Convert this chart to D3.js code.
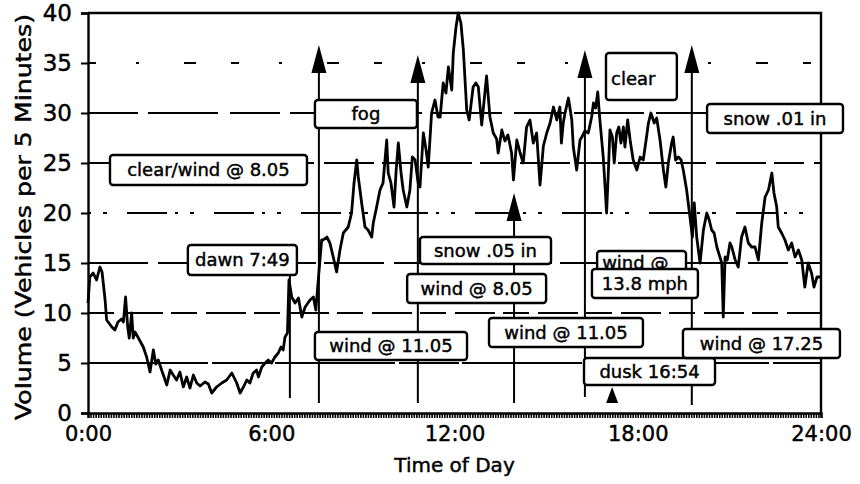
<!DOCTYPE html>
<html>
<head>
<meta charset="utf-8">
<script src="https://cdn.jsdelivr.net/npm/d3@7"></script>
<style>
  html, body { margin: 0; padding: 0; background: #fff; }
  svg { display: block; font-family: "DejaVu Sans", Verdana, sans-serif; }
  svg text { stroke: #000; stroke-width: 0.45px; fill: #000; }
</style>
</head>
<body>
<svg id="chart" width="860" height="484"></svg>
<script>
// Traffic volume, vehicles per 5 minutes, over one day (hour of day -> volume)
const hours = [
  0.00, 0.06, 0.17, 0.28, 0.39, 0.46, 0.56, 0.61, 0.78, 0.88, 0.98, 1.10, 1.16, 1.23, 1.30, 1.35,
  1.43, 1.48, 1.54, 1.65, 1.81, 1.92, 2.03, 2.14, 2.22, 2.30, 2.41, 2.58, 2.69, 2.79, 2.90, 3.01,
  3.12, 3.23, 3.34, 3.45, 3.56, 3.67, 3.83, 3.94, 4.05, 4.21, 4.38, 4.54, 4.71, 4.87, 4.98, 5.09,
  5.20, 5.30, 5.41, 5.52, 5.58, 5.69, 5.80, 5.90, 6.01, 6.12, 6.23, 6.32, 6.39, 6.45, 6.53, 6.58,
  6.67, 6.78, 6.89, 7.00, 7.11, 7.27, 7.38, 7.46, 7.52, 7.65, 7.70, 7.82, 7.92, 8.03, 8.14, 8.25,
  8.36, 8.52, 8.63, 8.71, 8.80, 8.85, 8.96, 9.07, 9.17, 9.29, 9.34, 9.45, 9.56, 9.66, 9.78, 9.83,
  9.92, 10.02, 10.09, 10.16, 10.25, 10.32, 10.44, 10.54, 10.62, 10.71, 10.81, 10.87, 10.98, 11.07, 11.14, 11.25,
  11.36, 11.46, 11.53, 11.63, 11.72, 11.80, 11.91, 11.96, 12.05, 12.12, 12.21, 12.29, 12.40, 12.48, 12.61, 12.70,
  12.78, 12.89, 13.05, 13.16, 13.27, 13.38, 13.43, 13.55, 13.65, 13.75, 13.87, 13.93, 14.04, 14.15, 14.25, 14.36,
  14.47, 14.58, 14.69, 14.80, 14.91, 15.02, 15.13, 15.24, 15.35, 15.45, 15.50, 15.56, 15.62, 15.73, 15.84, 15.89,
  16.00, 16.11, 16.17, 16.27, 16.38, 16.49, 16.55, 16.62, 16.69, 16.76, 16.87, 16.93, 16.98, 17.04, 17.09, 17.17,
  17.23, 17.31, 17.38, 17.45, 17.53, 17.58, 17.67, 17.75, 17.85, 17.97, 18.08, 18.18, 18.26, 18.35, 18.43, 18.54,
  18.62, 18.73, 18.84, 18.92, 19.00, 19.11, 19.16, 19.24, 19.33, 19.42, 19.49, 19.60, 19.71, 19.79, 19.85, 19.93,
  20.04, 20.15, 20.26, 20.34, 20.42, 20.50, 20.59, 20.69, 20.75, 20.80, 20.86, 20.93, 21.02, 21.08, 21.19, 21.29,
  21.40, 21.51, 21.62, 21.73, 21.84, 21.95, 22.06, 22.17, 22.28, 22.39, 22.46, 22.55, 22.60, 22.71, 22.82, 22.93,
  23.04, 23.15, 23.26, 23.37, 23.47, 23.58, 23.69, 23.77, 23.87, 24.00
];
const volumes = [
  11.0, 13.6, 14.0, 13.3, 14.6, 14.1, 11.3, 9.3, 8.6, 8.3, 9.1, 9.4, 9.1, 11.6, 8.6, 7.5,
  10.0, 7.5, 8.1, 7.5, 6.6, 5.6, 4.1, 6.3, 4.9, 5.3, 4.3, 2.8, 4.3, 3.8, 3.3, 4.1,
  2.6, 3.6, 2.5, 3.8, 3.0, 2.7, 3.1, 2.9, 2.0, 2.6, 3.0, 3.3, 4.0, 3.0, 2.0, 2.6,
  3.3, 3.0, 4.0, 4.3, 3.6, 4.6, 5.0, 5.3, 5.0, 5.6, 6.0, 6.6, 6.3, 7.6, 8.0, 13.3,
  11.6, 11.0, 11.5, 9.6, 10.6, 11.3, 11.6, 10.3, 12.6, 17.3, 17.3, 17.6, 17.0, 15.6, 14.1, 16.3,
  18.0, 18.6, 20.0, 23.0, 25.3, 23.6, 21.0, 18.6, 18.3, 17.6, 19.0, 20.6, 22.3, 23.0, 27.3, 24.0,
  23.0, 20.6, 24.3, 27.0, 24.0, 22.3, 20.6, 22.3, 25.6, 25.3, 23.0, 22.6, 28.0, 26.3, 24.6, 30.0,
  31.3, 29.6, 29.6, 33.0, 32.0, 34.6, 32.3, 36.0, 38.6, 40.0, 39.0, 36.3, 30.3, 29.3, 32.6, 33.0,
  32.6, 28.8, 33.7, 29.6, 28.0, 27.4, 26.0, 28.3, 27.2, 27.8, 26.0, 23.3, 27.3, 26.0, 25.0, 28.6,
  29.3, 27.0, 28.0, 22.8, 26.7, 28.0, 29.0, 30.6, 29.3, 30.6, 27.0, 29.0, 30.0, 31.5, 29.3, 26.6,
  24.3, 27.3, 27.6, 28.2, 28.0, 29.6, 31.0, 30.5, 32.1, 29.3, 25.6, 22.6, 20.0, 24.3, 28.3, 27.6,
  25.0, 28.0, 28.6, 27.0, 28.6, 26.6, 29.3, 27.3, 25.3, 24.3, 25.6, 25.3, 27.0, 29.0, 30.0, 29.0,
  29.5, 27.3, 24.3, 22.6, 25.0, 27.0, 27.6, 25.3, 25.6, 25.3, 24.3, 22.3, 19.6, 17.6, 21.0, 17.6,
  15.0, 18.3, 20.0, 19.3, 18.3, 18.0, 16.6, 15.6, 15.0, 9.6, 15.6, 15.3, 17.0, 16.6, 15.3, 14.6,
  17.6, 18.6, 17.0, 16.6, 16.6, 15.3, 19.0, 21.6, 22.3, 24.0, 22.0, 20.6, 18.6, 18.0, 17.3, 16.3,
  17.0, 15.6, 16.3, 15.3, 12.6, 15.0, 14.0, 12.6, 13.6, 13.6
];

// Axis ticks
const yTicks = [0, 5, 10, 15, 20, 25, 30, 35, 40];
const xTickHours = [0, 6, 12, 18, 24];
const xTickLabels = ["0:00", "6:00", "12:00", "18:00", "24:00"];
const gridLevels = [5, 10, 15, 20, 25, 30, 35];

// Event markers: hour, top of the marker line (vehicles), bottom of the line
const eventHours = [7.56, 10.80, 13.95, 16.27, 19.77];
const eventTops  = [36.8, 35.8, 22.0, 36.3, 36.8];
const eventBottoms = [1.0, 1.0, 1.0, 1.6, 0.8];

// Dawn / dusk markers
const dawnHour = 6.61, dawnTop = 13.8, dawnBottom = 1.5;
const duskHour = 17.16, duskTip = 2.6;

// Weather notes: text, hour span, vehicle span
const noteTexts = [
  "clear/wind @ 8.05", "fog", "dawn 7:49", "snow .05 in", "wind @ 8.05",
  "wind @ 11.05", "wind @ 11.05", "wind @", "13.8 mph", "dusk 16:54",
  "wind @ 17.25", "clear", "snow .01 in"
];
const noteHours = [
  [0.72, 7.17], [7.43, 10.77], [3.27, 6.84], [10.87, 15.16], [10.45, 15.00],
  [7.43, 12.41], [13.13, 18.17], [16.67, 19.58], [16.50, 19.97], [16.24, 20.53],
  [19.48, 24.62], [16.96, 19.28], [20.27, 24.72]
];
const noteVolumes = [
  [25.8, 22.8], [31.3, 28.5], [16.8, 13.8], [17.6, 14.9], [13.9, 11.0],
  [8.1, 5.3], [9.5, 6.6], [16.2, 13.8], [14.4, 11.5], [5.5, 2.8],
  [8.4, 5.5], [36.0, 31.3], [30.9, 28.0]
];

const svg = d3.select("#chart");
const x = d3.scaleLinear().domain([0, 24]).range([88, 821]);
const y = d3.scaleLinear().domain([0, 40]).range([413, 13]);

// Dash styles of the printed grid
const gridDash = {
  5: "120,4,60,3",
  10: "26,9,40,8",
  15: "60,10,40,8",
  20: "3,12,4,20,40,8",
  25: "30,10,50,8",
  30: "50,10,70,12",
  35: "8,40,3,45,12,35"
};

svg.append("g")
  .selectAll("line")
  .data(gridLevels)
  .join("line")
  .attr("x1", x(0)).attr("x2", x(24))
  .attr("y1", d => y(d)).attr("y2", d => y(d))
  .attr("stroke", "#000")
  .attr("stroke-width", 2)
  .attr("stroke-dasharray", d => gridDash[d]);

// Volume trace
const points = hours.map((h, i) => [h, volumes[i]]);
svg.append("path")
  .datum(points)
  .attr("fill", "none")
  .attr("stroke", "#000")
  .attr("stroke-width", 2.8)
  .attr("stroke-linejoin", "round")
  .attr("d", d3.line().x(d => x(d[0])).y(d => y(d[1])));

// Event marker lines with arrowheads
const ev = svg.append("g");
eventHours.forEach((h, i) => {
  const px = x(h);
  const tip = y(eventTops[i]);
  ev.append("line")
    .attr("x1", px).attr("x2", px)
    .attr("y1", tip + 20).attr("y2", y(eventBottoms[i]))
    .attr("stroke", "#000").attr("stroke-width", 2);
  ev.append("path")
    .attr("d", `M${px},${tip} L${px - 7.5},${tip + 28} L${px + 7.5},${tip + 28} Z`)
    .attr("fill", "#000");
});

// Dawn line and dusk arrow
ev.append("line")
  .attr("x1", x(dawnHour)).attr("x2", x(dawnHour))
  .attr("y1", y(dawnTop)).attr("y2", y(dawnBottom))
  .attr("stroke", "#000").attr("stroke-width", 2);
{
  const px = x(duskHour), tip = y(duskTip);
  ev.append("path")
    .attr("d", `M${px},${tip} L${px - 6},${y(0) - 10} L${px + 6},${y(0) - 10} Z`)
    .attr("fill", "#000");
}

// Frame and axes
svg.append("path")
  .attr("d", `M${x(0)},${y(40)} H${x(24)} V${y(0)}`)
  .attr("fill", "none").attr("stroke", "#000").attr("stroke-width", 2.4);

const yAxis = svg.append("g")
  .attr("transform", `translate(${x(0)},0)`)
  .call(d3.axisLeft(y).tickValues(yTicks).tickSize(7).tickPadding(9).tickFormat(d3.format("d")));
yAxis.select(".domain").attr("stroke-width", 2.4);
yAxis.selectAll(".tick line").attr("stroke-width", 2);
yAxis.selectAll("text")
  .attr("font-size", 23)
  .attr("font-family", "DejaVu Sans, sans-serif");

// Five-minute ticks along the time axis
const minorTicks = d3.range(0, 24 + 1e-9, 5 / 60);
const xAxisMinor = svg.append("g")
  .attr("transform", `translate(0,${y(0)})`)
  .call(d3.axisBottom(x).tickValues(minorTicks).tickSize(5).tickFormat(""));
xAxisMinor.select(".domain").attr("stroke-width", 2.4);
xAxisMinor.selectAll(".tick line").attr("stroke-width", 1.6);

const xAxis = svg.append("g")
  .attr("transform", `translate(0,${y(0)})`)
  .call(d3.axisBottom(x).tickValues(xTickHours).tickSize(0).tickPadding(13)
    .tickFormat((d, i) => xTickLabels[i]));
xAxis.select(".domain").remove();
xAxis.selectAll("text")
  .attr("font-size", 21)
  .attr("font-family", "DejaVu Sans, sans-serif");

// Axis titles
svg.append("text")
  .attr("x", x(12)).attr("y", 472)
  .attr("text-anchor", "middle")
  .attr("font-size", 20)
  .text("Time of Day");

svg.append("text")
  .attr("transform", `translate(31,${y(19.6)}) rotate(-90)`)
  .attr("text-anchor", "middle")
  .attr("font-size", 21)
  .attr("textLength", 406)
  .attr("lengthAdjust", "spacingAndGlyphs")
  .text("Volume (Vehicles per 5 Minutes)");

// Weather note boxes
const notes = svg.append("g");
noteTexts.forEach((t, i) => {
  const [h0, h1] = noteHours[i];
  const [v0, v1] = noteVolumes[i];
  const bx = x(h0), by = y(v0), bw = x(h1) - x(h0), bh = y(v1) - y(v0);
  notes.append("rect")
    .attr("x", bx).attr("y", by).attr("width", bw).attr("height", bh)
    .attr("rx", 3)
    .attr("fill", "#fff").attr("stroke", "#000").attr("stroke-width", 2.4);
  const leftAligned = t === "clear" || t === "wind @";
  notes.append("text")
    .attr("x", leftAligned ? bx + 5 : bx + bw / 2)
    .attr("y", t === "clear" ? by + 26 : by + bh / 2)
    .attr("dy", "0.36em")
    .attr("text-anchor", leftAligned ? "start" : "middle")
    .attr("font-size", 18)
    .text(t);
});
</script>
</body>
</html>
